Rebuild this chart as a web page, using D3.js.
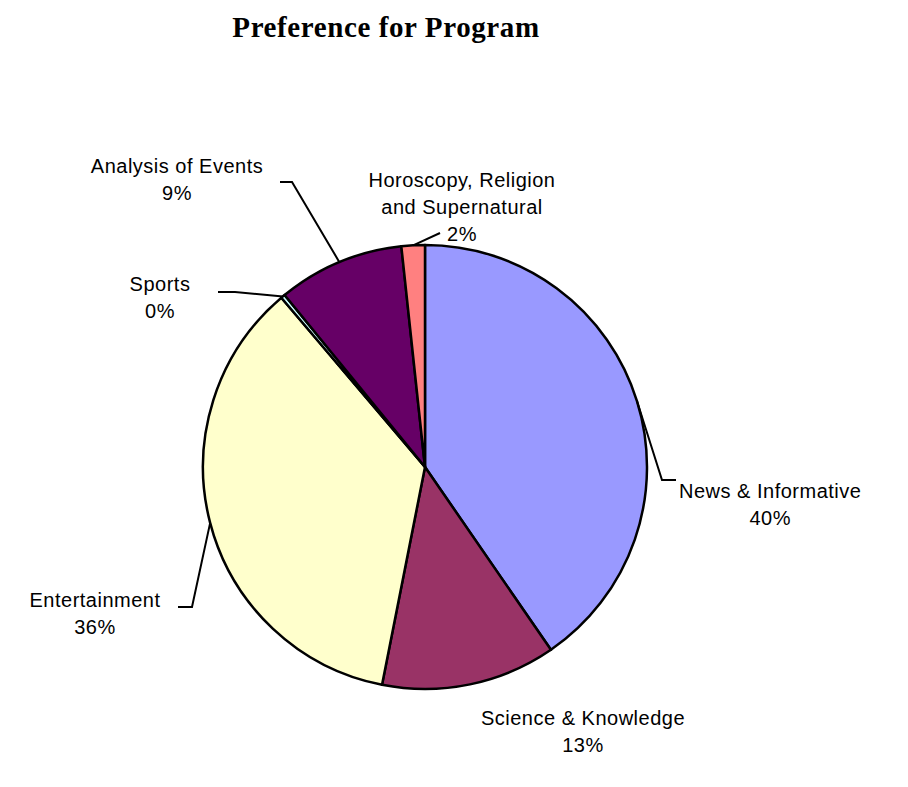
<!DOCTYPE html>
<html>
<head>
<meta charset="utf-8">
<script src="https://cdn.jsdelivr.net/npm/d3@7"></script>
<style>
  body { margin: 0; background: #fff; }
  text { font-family: "Liberation Sans", Arial, sans-serif; }
</style>
</head>
<body>
<svg id="chart" width="908" height="787"></svg>
<script>
// data
const categories = ["News & Informative", "Science & Knowledge", "Entertainment", "Sports", "Analysis of Events", "Horoscopy, Religion and Supernatural"];
const shares = [40.4, 12.7, 35.7, 0.3, 9.2, 1.7];
const labelLines = [
  ["News & Informative"],
  ["Science & Knowledge"],
  ["Entertainment"],
  ["Sports"],
  ["Analysis of Events"],
  ["Horoscopy, Religion", "and Supernatural"]
];
const colors = ["#9999FF", "#993366", "#FFFFCC", "#CCFFFF", "#660066", "#FF8080"];

function drawPie() {
  const svg = d3.select("#chart");
  const cx = 425, cy = 467, r = 222;
  const lineH = 27;

  // label placement relative to pie centre:
  // side = which edge of the text box sits at x ("l" left edge, "r" right edge, "c" centre)
  const layout = [
    { side: "l", x: 254, ty: 31, elbow: [237, 13], end: [251, 13] },
    { side: "c", x: 158, ty: 258, elbow: null, end: null },
    { side: "c", x: -330, ty: 140, elbow: [-233, 140], end: [-247, 140] },
    { side: "c", x: -265, ty: -176, elbow: [-190, -175], end: [-207, -175] },
    { side: "c", x: -248, ty: -294, elbow: [-133, -285], end: [-145, -285] },
    { side: "c", x: 37, ty: -280, elbow: null, end: [15, -234] }
  ];

  svg.selectAll("*").remove();

  svg.append("text")
    .attr("x", 386)
    .attr("y", 37)
    .attr("text-anchor", "middle")
    .style("font-family", "'Liberation Serif', 'Times New Roman', serif")
    .style("font-weight", "bold")
    .style("font-size", "29px")
    .style("letter-spacing", "0.6px")
    .text("Preference for Program");

  const g = svg.append("g").attr("transform", "translate(" + cx + "," + cy + ")");

  const pie = d3.pie().sort(null).value((d) => d).startAngle(0).endAngle(2 * Math.PI);
  const arcs = pie(shares);
  const arc = d3.arc().innerRadius(0).outerRadius(r);

  g.selectAll("path.slice")
    .data(arcs)
    .enter()
    .append("path")
    .attr("class", "slice")
    .attr("d", arc)
    .attr("fill", (d, i) => colors[i])
    .attr("stroke", "#000")
    .attr("stroke-width", 2.5)
    .attr("stroke-linejoin", "round");

  // leader lines from arc middle to label
  arcs.forEach((d, i) => {
    const L = layout[i];
    if (!L.end) return;
    const mid = (d.startAngle + d.endAngle) / 2;
    const ax = r * Math.sin(mid), ay = -r * Math.cos(mid);
    const pts = [[ax, ay]];
    if (L.elbow) pts.push(L.elbow);
    pts.push(L.end);
    g.append("path")
      .attr("d", d3.line()(pts))
      .attr("fill", "none")
      .attr("stroke", "#000")
      .attr("stroke-width", 2);
  });

  // labels: lines centred inside a box, box edge placed by layout
  arcs.forEach((d, i) => {
    const L = layout[i];
    const lines = labelLines[i].concat([Math.round(shares[i]) + "%"]);
    const t = g.append("text")
      .attr("text-anchor", "middle")
      .style("font-size", "20px")
      .style("letter-spacing", "0.5px")
      .attr("fill", "#000");
    const spans = lines.map((s, k) =>
      t.append("tspan").attr("y", L.ty + k * lineH).text(s)
    );
    const w = d3.max(spans, (sp) => sp.node().getComputedTextLength());
    let mx = L.x;
    if (L.side === "l") mx = L.x + w / 2;
    if (L.side === "r") mx = L.x - w / 2;
    spans.forEach((sp) => sp.attr("x", mx));
  });
}

drawPie();
</script>
</body>
</html>
